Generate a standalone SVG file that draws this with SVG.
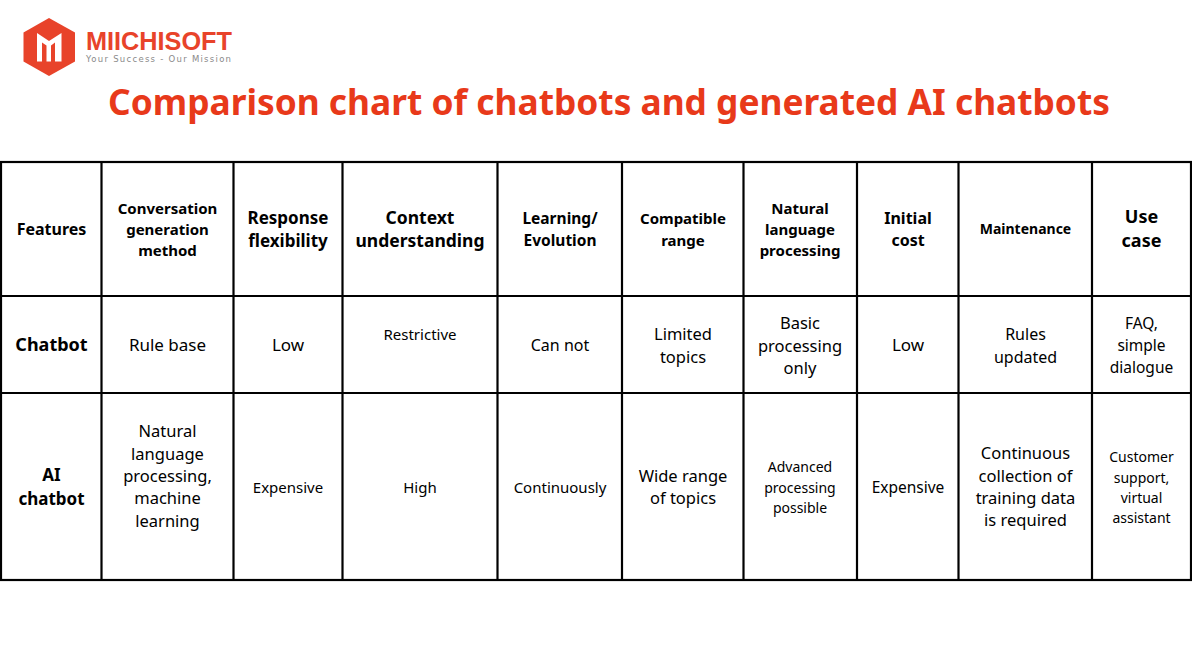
<svg xmlns="http://www.w3.org/2000/svg" width="1192" height="671" viewBox="0 0 1192 671">
<style>
text{font-family:"Noto Sans","Open Sans",sans-serif;fill:#000;text-anchor:middle}
.h{font-weight:700}
.l{stroke:#000;stroke-width:2.2;fill:none}
</style>
<rect width="1192" height="671" fill="#fff"/>
<g id="logo">
<polygon points="49,18 75,32.500 75,61.500 49,76 23.500,61.500 23.500,32.500" fill="#e8432a"/>
<path d="M37,61.500V33L49,41L61.500,33V61.500H55V42.500L51,45.500V61.500H46.500V45.500L42,42.500V61.500Z" fill="#fff"/>
<text x="86" y="50" style="text-anchor:start;font-family:'Liberation Sans',sans-serif;font-weight:700;font-size:25px;fill:#e8432a" textLength="146" lengthAdjust="spacingAndGlyphs">MIICHISOFT</text>
<text x="86" y="62" style="text-anchor:start;font-family:'DejaVu Sans',sans-serif;font-size:8.500px;fill:#8a8a8a" textLength="145">Your Success - Our Mission</text>
</g>
<text id="title" x="609" y="115" class="h" style="font-size:35.300px;fill:#e8391a">Comparison chart of chatbots and generated AI chatbots</text>
<g id="grid" class="l">
<rect x="1" y="162" width="1190" height="418"/>
<path d="M0 296H1192M0 393H1192M101.500 162V580M233.500 162V580M342.500 162V580M497.500 162V580M622 162V580M743.500 162V580M857 162V580M958.500 162V580M1092 162V580"/>
</g>
<g id="header" class="h">
<text x="51.500" y="234.500" font-size="16">Features</text>
<text x="167.500" y="213.500" font-size="15">Conversation</text>
<text x="167.500" y="234.500" font-size="15">generation</text>
<text x="167.500" y="255.500" font-size="15">method</text>
<text x="288" y="224" font-size="17">Response</text>
<text x="288" y="247" font-size="17">flexibility</text>
<text x="420" y="224" font-size="17.500">Context</text>
<text x="420" y="247" font-size="17.500">understanding</text>
<text x="560" y="224" font-size="15.500">Learning/</text>
<text x="560" y="246" font-size="15.500">Evolution</text>
<text x="683" y="224" font-size="15">Compatible</text>
<text x="683" y="245.500" font-size="15">range</text>
<text x="800" y="213.500" font-size="15">Natural</text>
<text x="800" y="234.500" font-size="15">language</text>
<text x="800" y="255.500" font-size="15">processing</text>
<text x="908" y="224" font-size="16">Initial</text>
<text x="908" y="246" font-size="16">cost</text>
<text x="1025.500" y="234" font-size="14">Maintenance</text>
<text x="1141.500" y="223" font-size="18">Use</text>
<text x="1141.500" y="247" font-size="18">case</text>
</g>
<g id="chatbot">
<text x="51.500" y="351" font-size="18" class="h">Chatbot</text>
<text x="167.500" y="351" font-size="17">Rule base</text>
<text x="288" y="351" font-size="17">Low</text>
<text x="420" y="340" font-size="15">Restrictive</text>
<text x="560" y="351" font-size="16">Can not</text>
<text x="683" y="340" font-size="16.500">Limited</text>
<text x="683" y="363" font-size="16.500">topics</text>
<text x="800" y="329" font-size="16.500">Basic</text>
<text x="800" y="352" font-size="16.500">processing</text>
<text x="800" y="374" font-size="16.500">only</text>
<text x="908" y="351" font-size="17">Low</text>
<text x="1025.500" y="340" font-size="16">Rules</text>
<text x="1025.500" y="363" font-size="16">updated</text>
<text x="1141.500" y="329" font-size="15.500">FAQ,</text>
<text x="1141.500" y="351" font-size="15.500">simple</text>
<text x="1141.500" y="373" font-size="15.500">dialogue</text>
</g>
<g id="ai-chatbot">
<text x="51.500" y="481" font-size="17" class="h">AI</text>
<text x="51.500" y="505" font-size="17" class="h">chatbot</text>
<text x="167.500" y="437" font-size="16.500">Natural</text>
<text x="167.500" y="460" font-size="16.500">language</text>
<text x="167.500" y="482" font-size="16.500">processing,</text>
<text x="167.500" y="504" font-size="16.500">machine</text>
<text x="167.500" y="527" font-size="16.500">learning</text>
<text x="288" y="493" font-size="15">Expensive</text>
<text x="420" y="493" font-size="15">High</text>
<text x="560" y="493" font-size="15">Continuously</text>
<text x="683" y="482" font-size="16.500">Wide range</text>
<text x="683" y="504" font-size="16.500">of topics</text>
<text x="800" y="472" font-size="14">Advanced</text>
<text x="800" y="493" font-size="14">processing</text>
<text x="800" y="513" font-size="14">possible</text>
<text x="908" y="493" font-size="15.500">Expensive</text>
<text x="1025.500" y="459" font-size="16.500">Continuous</text>
<text x="1025.500" y="482" font-size="16.500">collection of</text>
<text x="1025.500" y="504" font-size="16.500">training data</text>
<text x="1025.500" y="526" font-size="16.500">is required</text>
<text x="1141.500" y="462" font-size="14">Customer</text>
<text x="1141.500" y="483" font-size="14">support,</text>
<text x="1141.500" y="503" font-size="14">virtual</text>
<text x="1141.500" y="523" font-size="14">assistant</text>
</g>
</svg>
